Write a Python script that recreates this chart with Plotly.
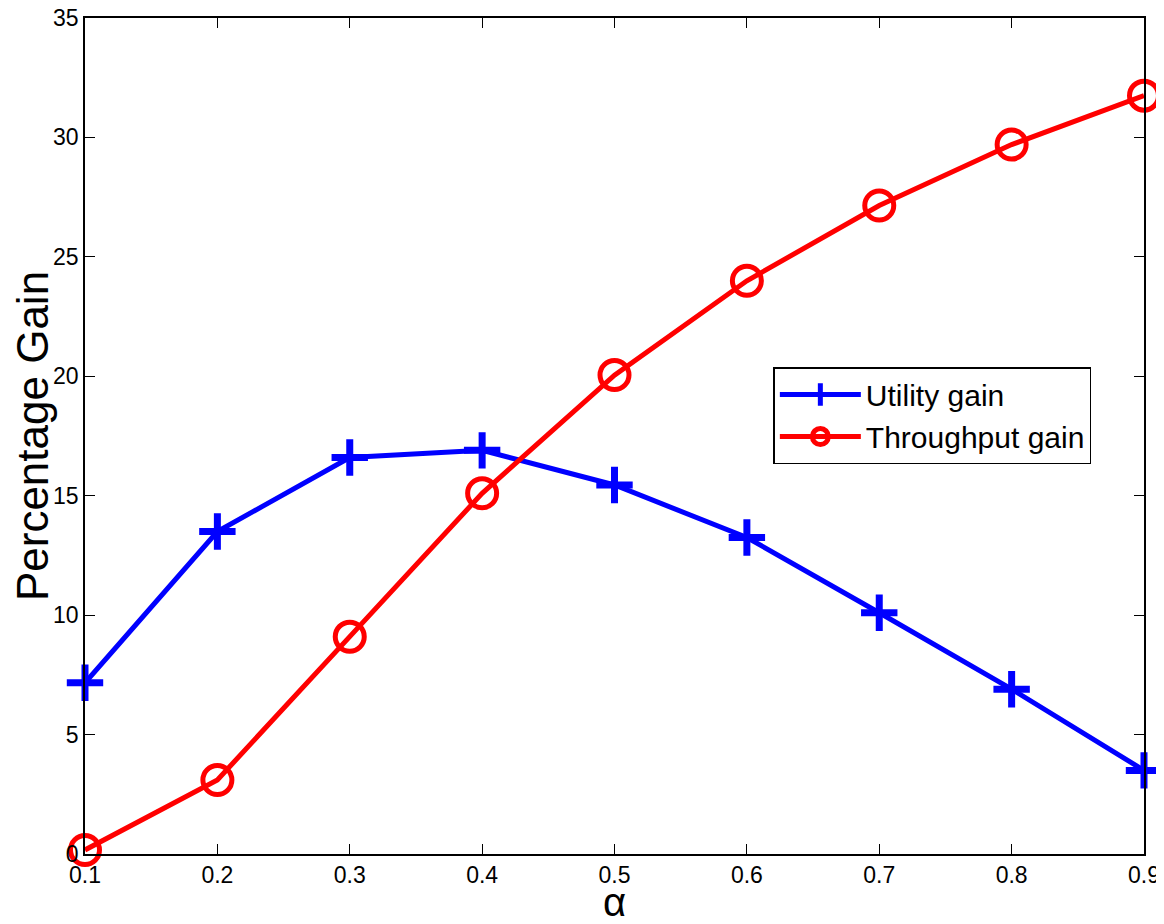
import plotly.graph_objects as go

alpha = [0.1, 0.2, 0.3, 0.4, 0.5, 0.6, 0.7, 0.8, 0.9]
utility_gain = [7.17, 13.5, 16.6, 16.9, 15.45, 13.25, 10.1, 6.9, 3.5]
throughput_gain = [0.17, 3.1, 9.1, 15.1, 20.05, 24.0, 27.15, 29.7, 31.75]
x_ticks = [0.1, 0.2, 0.3, 0.4, 0.5, 0.6, 0.7, 0.8, 0.9]
y_ticks = [0, 5, 10, 15, 20, 25, 30, 35]

FONT = "Liberation Sans, Arial, Helvetica"

fig = go.Figure()
fig.add_trace(go.Scatter(
    x=alpha, y=utility_gain, mode="lines+markers", name="Utility gain",
    line=dict(color="#0000ff", width=5),
    marker=dict(symbol="cross-thin", size=26, color="#0000ff",
                line=dict(color="#0000ff", width=7)),
    cliponaxis=False,
))
fig.add_trace(go.Scatter(
    x=alpha, y=throughput_gain, mode="lines+markers", name="Throughput gain",
    line=dict(color="#ff0000", width=5),
    marker=dict(symbol="circle-open", size=29, color="#ff0000",
                line=dict(color="#ff0000", width=5)),
    cliponaxis=False,
))

axis_common = dict(
    showline=True, linecolor="black", linewidth=1.5, mirror="ticks",
    ticks="inside", ticklen=10, tickwidth=1, tickcolor="black",
    showgrid=False, zeroline=False, automargin=False,
    ticklabeloverflow="allow",
    tickfont=dict(family=FONT, size=23, color="black"),
)

fig.update_layout(
    width=1148, height=916,
    margin=dict(l=76.5, r=12, t=10, b=70),
    paper_bgcolor="white", plot_bgcolor="white",
    xaxis=dict(range=[0.1, 0.9], tickvals=x_ticks,
               ticktext=[f"{v:.1f}" for v in x_ticks],
               title=dict(text="α", font=dict(family=FONT, size=40, color="black"), standoff=10),
               **axis_common),
    yaxis=dict(range=[0, 35], tickvals=y_ticks,
               title=dict(text="Percentage Gain", font=dict(family=FONT, size=44, color="black"), standoff=4),
               **axis_common),
    legend=dict(x=0.65, y=0.5825, xanchor="left", yanchor="top",
                bgcolor="white", bordercolor="black", borderwidth=1.5,
                font=dict(family=FONT, size=30, color="black"),
                itemwidth=81, tracegroupgap=0,
                entrywidth=250, entrywidthmode="pixels"),
    showlegend=True,
)

fig.write_html("out.html")
